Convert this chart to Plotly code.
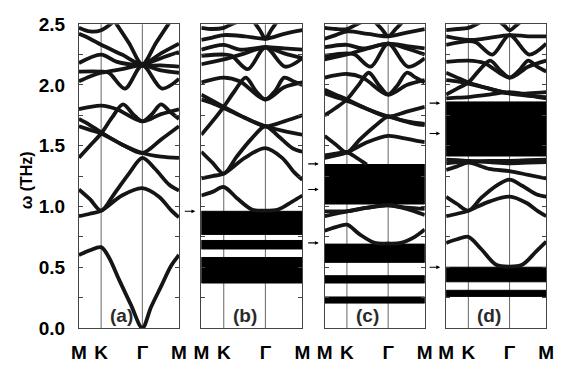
import plotly.graph_objects as go

# ---------------- data ----------------
K_POS = 0.222
G_POS = 0.634
KPATH_TICKS = [0.0, K_POS, G_POS, 1.0]
KPATH_LABELS = ["M", "K", "Γ", "M"]
Y_TICKS = [0.0, 0.25, 0.5, 0.75, 1.0, 1.25, 1.5, 1.75, 2.0, 2.25, 2.5]
Y_TICK_LABELS = ["0.0", "", "0.5", "", "1.0", "", "1.5", "", "2.0", "", "2.5"]
PANEL_TAGS = ["(a)", "(b)", "(c)", "(d)"]
Y_TITLE = "ω (THz)"

# k-point sets (fraction of the M-K-Γ-M path)
KA = [0, 0.11, 0.222, 0.30, 0.40, 0.52, 0.634, 0.72, 0.82, 0.92, 1.0]
K6 = [0, 0.222, 0.38, 0.634, 0.82, 1.0]
K7 = [0, 0.11, 0.222, 0.43, 0.634, 0.82, 1.0]
K8 = [0, 0.11, 0.222, 0.43, 0.634, 0.80, 0.92, 1.0]
K9 = [0, 0.11, 0.222, 0.35, 0.50, 0.634, 0.76, 0.90, 1.0]
K11 = [0, 0.11, 0.222, 0.33, 0.44, 0.54, 0.634, 0.73, 0.82, 0.91, 1.0]
KV = [0, 0.222, 0.30, 0.46, 0.634, 0.83, 1.0]

A_BANDS = [
    (KA, [0.60, 0.64, 0.665, 0.58, 0.40, 0.19, 0.0, 0.17, 0.34, 0.51, 0.60]),
    (K8, [0.92, 0.94, 0.965, 1.09, 1.15, 1.08, 0.97, 0.91]),
    (K9, [1.14, 1.06, 0.965, 1.10, 1.27, 1.40, 1.31, 1.18, 1.13]),
    (K11, [1.40, 1.50, 1.60, 1.73, 1.84, 1.76, 1.70, 1.76, 1.84, 1.78, 1.72]),
    (K7, [1.72, 1.67, 1.61, 1.51, 1.44, 1.41, 1.40]),
    (K7, [1.66, 1.63, 1.60, 1.51, 1.44, 1.55, 1.66]),
    (K6, [1.80, 1.83, 1.80, 1.70, 1.76, 1.80]),
    (KV, [2.11, 2.11, 2.10, 1.97, 2.16, 1.97, 2.05]),
    (K7, [2.03, 2.07, 2.10, 2.13, 2.16, 2.12, 2.10]),
    (K6, [2.18, 2.25, 2.19, 2.16, 2.16, 2.15]),
    ([0.634, 0.82, 1.0], [2.16, 2.22, 2.27]),
    (K7, [2.42, 2.38, 2.33, 2.25, 2.17, 2.26, 2.34]),
    ([0.36, 0.50, 0.634, 0.77, 0.91], [2.52, 2.345, 2.17, 2.345, 2.52]),
    ([0, 0.11, 0.222, 0.36], [2.47, 2.44, 2.45, 2.53]),
]
B_BANDS = [
    (K9, [1.09, 1.12, 1.16, 1.07, 0.975, 0.965, 0.975, 1.04, 1.09]),
    (K8, [1.23, 1.25, 1.27, 1.40, 1.48, 1.40, 1.28, 1.22]),
    (K9, [1.45, 1.36, 1.27, 1.41, 1.56, 1.66, 1.58, 1.48, 1.45]),
    (K11, [1.59, 1.70, 1.82, 1.95, 2.06, 1.95, 1.88, 1.95, 2.06, 2.03, 2.00]),
    (K7, [1.92, 1.87, 1.82, 1.73, 1.66, 1.62, 1.59]),
    (K7, [1.88, 1.85, 1.81, 1.73, 1.66, 1.70, 1.75]),
    (K6, [2.02, 2.06, 2.03, 1.88, 1.98, 2.02]),
    (KV, [2.24, 2.25, 2.24, 2.13, 2.31, 2.15, 2.22]),
    (K7, [2.17, 2.19, 2.21, 2.26, 2.31, 2.26, 2.22]),
    (K6, [2.29, 2.33, 2.29, 2.31, 2.30, 2.29]),
    (K7, [2.37, 2.39, 2.41, 2.40, 2.38, 2.42, 2.45]),
    ([0.52, 0.58, 0.634, 0.69, 0.75], [2.52, 2.45, 2.38, 2.45, 2.52]),
    ([0, 0.11, 0.222, 0.30, 0.40], [2.47, 2.46, 2.47, 2.50, 2.53]),
]
C_BANDS = [
    (K9, [0.80, 0.83, 0.85, 0.77, 0.70, 0.695, 0.70, 0.75, 0.81]),
    (K7, [0.96, 0.96, 0.96, 0.99, 1.01, 0.98, 0.93]),
    (K7, [0.92, 0.94, 0.96, 0.99, 1.01, 0.99, 0.98]),
    ([0, 0.11, 0.222, 0.32, 0.42], [1.42, 1.435, 1.445, 1.40, 1.345]),
    (K8, [1.40, 1.42, 1.445, 1.53, 1.58, 1.56, 1.54, 1.53]),
    (K9, [1.58, 1.51, 1.445, 1.55, 1.66, 1.74, 1.71, 1.68, 1.67]),
    (K11, [1.75, 1.81, 1.88, 1.99, 2.10, 2.00, 1.92, 2.00, 2.10, 2.06, 2.02]),
    (K7, [1.96, 1.92, 1.88, 1.80, 1.74, 1.70, 1.68]),
    (K7, [1.93, 1.90, 1.87, 1.80, 1.74, 1.78, 1.82]),
    (K6, [2.06, 2.09, 2.06, 1.92, 2.00, 2.04]),
    (KV, [2.24, 2.26, 2.25, 2.15, 2.34, 2.15, 2.22]),
    (K7, [2.21, 2.23, 2.25, 2.30, 2.34, 2.30, 2.25]),
    (K6, [2.31, 2.33, 2.30, 2.34, 2.32, 2.30]),
    (K7, [2.38, 2.41, 2.44, 2.42, 2.40, 2.43, 2.46]),
    ([0.50, 0.57, 0.634, 0.71, 0.78], [2.52, 2.46, 2.40, 2.46, 2.52]),
    ([0, 0.11, 0.222, 0.30, 0.40], [2.47, 2.46, 2.46, 2.49, 2.53]),
]
D_BANDS = [
    (K9, [0.70, 0.73, 0.75, 0.65, 0.52, 0.505, 0.52, 0.63, 0.71]),
    (K8, [0.92, 0.94, 0.965, 1.04, 1.08, 1.03, 0.96, 0.92]),
    (K9, [1.08, 1.02, 0.965, 1.07, 1.17, 1.22, 1.17, 1.10, 1.08]),
    (K7, [1.30, 1.33, 1.36, 1.31, 1.29, 1.26, 1.23]),
    (K7, [1.385, 1.38, 1.375, 1.365, 1.355, 1.36, 1.365]),
    (K7, [1.355, 1.365, 1.37, 1.375, 1.375, 1.38, 1.385]),
    (K8, [1.89, 1.895, 1.90, 1.92, 1.94, 1.92, 1.90, 1.89]),
    (K11, [1.92, 1.97, 2.02, 2.12, 2.20, 2.12, 2.06, 2.12, 2.20, 2.15, 2.11]),
    (K7, [2.10, 2.06, 2.02, 1.97, 1.93, 1.91, 1.90]),
    (K7, [2.04, 2.03, 2.01, 1.97, 1.93, 1.93, 1.94]),
    (K6, [2.19, 2.20, 2.18, 2.06, 2.15, 2.20]),
    (KV, [2.33, 2.36, 2.35, 2.25, 2.41, 2.25, 2.34]),
    (K6, [2.40, 2.37, 2.38, 2.41, 2.40, 2.40]),
    ([0.52, 0.58, 0.634, 0.70, 0.76], [2.53, 2.49, 2.45, 2.49, 2.53]),
    ([0, 0.11, 0.222, 0.35], [2.45, 2.46, 2.47, 2.52]),
]

# flat-band blocks (low, high) in THz
A_BLOCKS = []
B_BLOCKS = [(0.77, 0.96), (0.65, 0.72), (0.37, 0.58)]
C_BLOCKS = [(1.02, 1.345), (0.54, 0.69), (0.37, 0.43), (0.205, 0.255)]
D_BLOCKS = [(1.415, 1.86), (0.38, 0.50), (0.26, 0.31)]

# arrow markers between panels (THz); they point into panels b, c, d
ARROWS_B = [0.96]
ARROWS_C = [1.35, 1.14, 0.70]
ARROWS_D = [1.85, 1.60, 0.50]

# ---------------- figure ----------------
W, H = 561, 372
X_PX = [(73, 176), (199, 303), (326, 429), (451, 554)]
Y_TOP, Y_BOT = 15, 337
LINE_COL = "#151515"
FONT = "Liberation Sans, Arial, sans-serif"

panels = [(A_BANDS, A_BLOCKS, []), (B_BANDS, B_BLOCKS, ARROWS_B),
          (C_BANDS, C_BLOCKS, ARROWS_C), (D_BANDS, D_BLOCKS, ARROWS_D)]

fig = go.Figure()
annotations = []
for i, (bands, blocks, arrows) in enumerate(panels):
    sfx = "" if i == 0 else str(i + 1)
    xa, ya = "x" + sfx, "y" + sfx
    for kv in (K_POS, G_POS):
        fig.add_trace(go.Scatter(x=[kv, kv], y=[0, 2.5], mode="lines",
                                 line=dict(color="#666666", width=1),
                                 xaxis=xa, yaxis=ya, showlegend=False, hoverinfo="skip"))
    for lo, hi in blocks:
        fig.add_trace(go.Scatter(x=[0, 1, 1, 0, 0], y=[lo, lo, hi, hi, lo], mode="lines",
                                 fill="toself", fillcolor="black",
                                 line=dict(color="black", width=1),
                                 xaxis=xa, yaxis=ya, showlegend=False, hoverinfo="skip"))
    for ks, ws in bands:
        fig.add_trace(go.Scatter(x=ks, y=ws, mode="lines",
                                 line=dict(color=LINE_COL, width=3.8, shape="spline", smoothing=0.9),
                                 xaxis=xa, yaxis=ya, showlegend=False, hoverinfo="skip"))
    x0, x1 = X_PX[i]
    fig.layout["xaxis" + sfx] = dict(
        domain=[x0 / W, x1 / W], range=[0, 1], anchor=ya,
        tickvals=KPATH_TICKS, ticktext=["<b>%s</b>" % t for t in KPATH_LABELS],
        ticks="", showline=True, mirror=True, linecolor="#444", linewidth=1,
        showgrid=False, zeroline=False, ticklabelstandoff=7,
        tickfont=dict(size=19, family=FONT, color="black"))
    fig.layout["yaxis" + sfx] = dict(
        domain=[1 - Y_BOT / H, 1 - Y_TOP / H], range=[0, 2.5], anchor=xa,
        tickvals=Y_TICKS, ticktext=["<b>%s</b>" % t if t else "" for t in Y_TICK_LABELS],
        ticks="inside", ticklen=4, tickcolor="#444", tickwidth=1,
        showline=True, mirror="ticks", linecolor="#444", linewidth=1,
        showgrid=False, zeroline=False, showticklabels=(i == 0), ticklabelstandoff=9,
        tickfont=dict(size=19, family=FONT, color="black"))
    annotations.append(dict(xref=xa + " domain", yref=ya + " domain", x=0.43, y=0.0,
                            text="<b>%s</b>" % PANEL_TAGS[i], showarrow=False,
                            xanchor="center", yanchor="bottom",
                            font=dict(size=19, family=FONT, color="#2a2a2a")))
    for w in arrows:
        annotations.append(dict(xref=xa + " domain", yref=ya, x=-0.06, y=w,
                                ax=-12, ay=0, axref="pixel", ayref="pixel", text="",
                                showarrow=True, arrowhead=2, arrowsize=0.7,
                                arrowwidth=1.1, arrowcolor="black"))

annotations.append(dict(xref="paper", yref="paper", x=19 / W, y=1 - 180 / H,
                        xanchor="center", yanchor="middle",
                        text="<b>%s</b>" % Y_TITLE, textangle=-90, showarrow=False,
                        font=dict(size=16, family=FONT, color="black")))

fig.update_layout(width=W, height=H, margin=dict(l=0, r=0, t=0, b=0),
                  paper_bgcolor="white", plot_bgcolor="white",
                  annotations=annotations, showlegend=False)

fig.write_html("out.html")
